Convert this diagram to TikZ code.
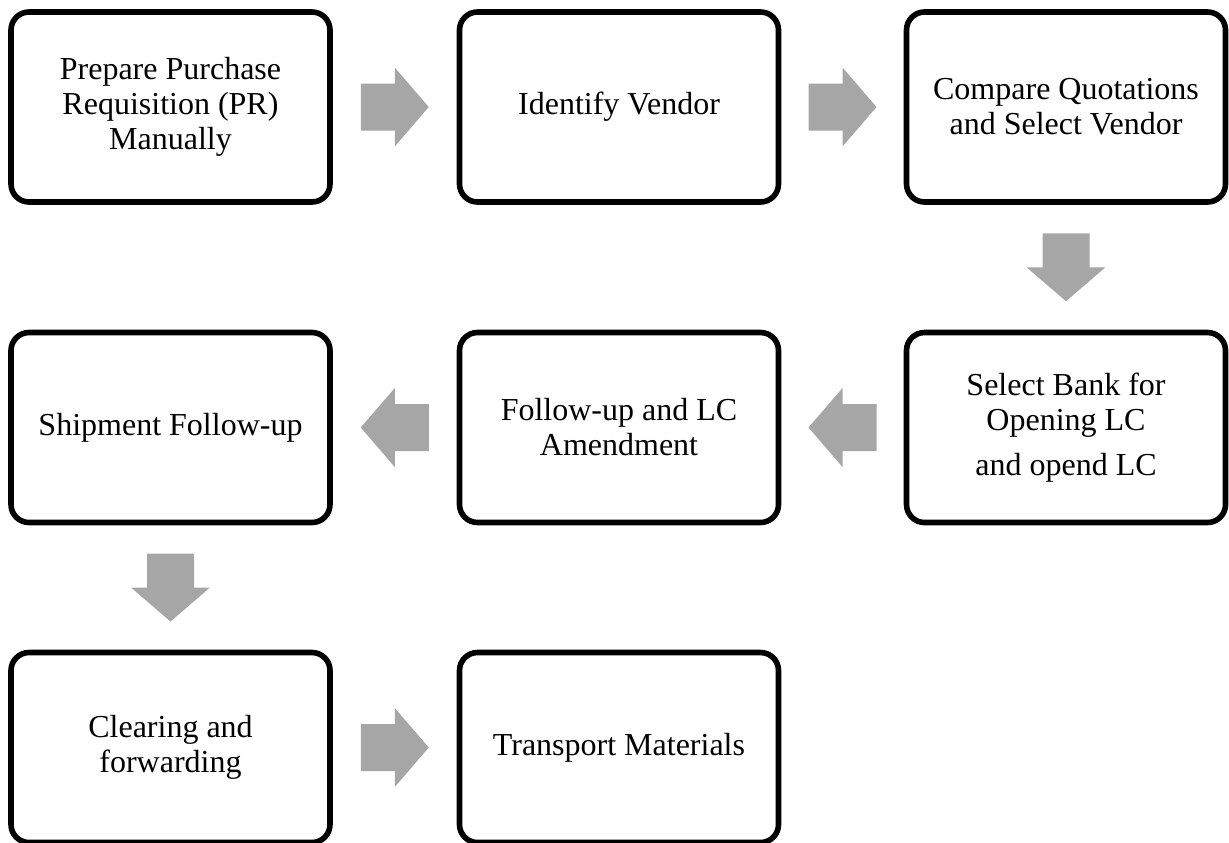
\documentclass[tikz,border=0pt]{standalone}
\usepackage{fontspec}
\setmainfont{Liberation Serif}
\usetikzlibrary{calc}
\definecolor{arrowgray}{RGB}{166,166,166}
\tikzset{
  stepbox/.style={draw=black, line width=2.8pt, rounded corners=9pt,
    rectangle, minimum width=159.5pt, minimum height=95pt, inner sep=2pt,
    align=center, font=\fontsize{16pt}{17.5pt}\selectfont},
  blockarrow/.pic={
    \fill[arrowgray] (-34,-23.5) -- (0,-23.5) -- (0,-39.5) -- (34,0)
      -- (0,39.5) -- (0,23.5) -- (-34,23.5) -- cycle;
  }
}
\begin{document}
\begin{tikzpicture}[x=0.5pt, y=-0.5pt]
  \useasboundingbox (0,0) rectangle (1229,842);
  % row 1
  \node[stepbox] (prep)     at (170.5,107) {Prepare Purchase\\Requisition (PR)\\Manually};
  \node[stepbox] (ident)    at (619,107)   {Identify Vendor};
  \node[stepbox] (compare)  at (1066,107)  {Compare Quotations\\and Select Vendor};
  % row 2
  \node[stepbox] (bank)     at (1066,427.5) {Select Bank for\\Opening LC\\[5pt]and opend LC};
  \node[stepbox] (lcamend)  at (619,427.5)  {Follow-up and LC\\Amendment};
  \node[stepbox] (shipfu)   at (170.5,427.5) {Shipment Follow-up};
  % row 3
  \node[stepbox] (clearing) at (170.5,747.5) {Clearing and\\forwarding};
  \node[stepbox] (transport) at (619,747.5)  {Transport Materials};
  % block arrows between steps
  \path ($(prep.east)!0.5!(ident.west)$) pic {blockarrow};
  \path ($(ident.east)!0.5!(compare.west)$) pic {blockarrow};
  \path ($(compare.south)!0.5!(bank.north)$) pic[rotate=-90] {blockarrow};
  \path ($(bank.west)!0.5!(lcamend.east)$) pic[rotate=180] {blockarrow};
  \path ($(lcamend.west)!0.5!(shipfu.east)$) pic[rotate=180] {blockarrow};
  \path ($(shipfu.south)!0.5!(clearing.north)$) pic[rotate=-90] {blockarrow};
  \path ($(clearing.east)!0.5!(transport.west)$) pic {blockarrow};
\end{tikzpicture}
\end{document}
